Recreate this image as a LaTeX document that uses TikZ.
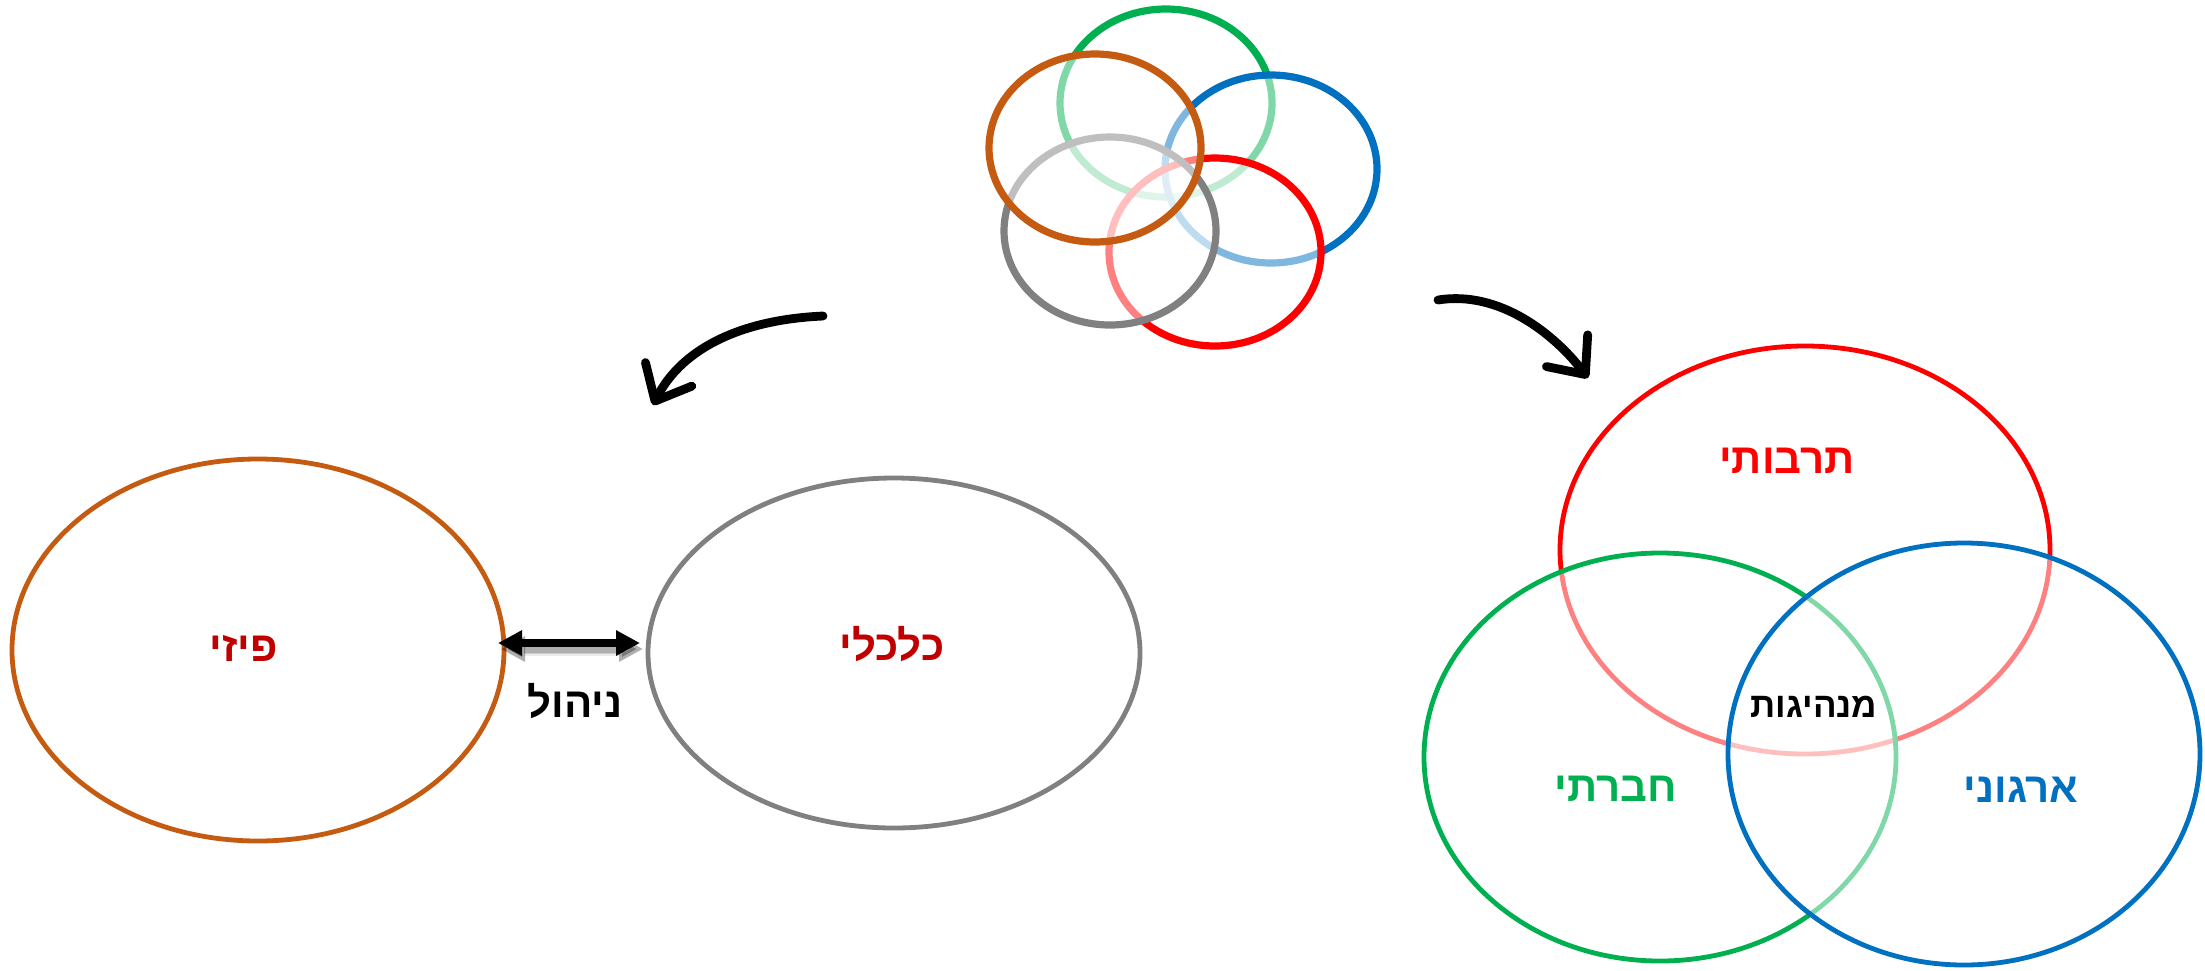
\documentclass[tikz,border=0pt]{standalone}
\usepackage{fontspec}
\newfontfamily\hebfont[Script=Hebrew]{Liberation Sans Bold}
\TeXXeTstate=1
\usetikzlibrary{shapes.geometric, arrows.meta, positioning}
\definecolor{rustbrown}{RGB}{197, 90, 17}
\definecolor{midgray}{RGB}{128, 128, 128}
\definecolor{labelred}{RGB}{192, 0, 0}
\definecolor{vennred}{RGB}{255, 0, 0}
\definecolor{venngreen}{RGB}{0, 176, 80}
\definecolor{vennblue}{RGB}{0, 112, 192}
\newcommand{\heb}[1]{\hebfont\beginR #1\endR}

\tikzset{
  ring/.style={ellipse, draw, fill=white, fill opacity=0.5, inner sep=0pt, outer sep=0pt},
  lbl/.style={inner sep=0pt, font=\fontsize{21}{24}\selectfont},
  sketcharrow/.style={line width=4.4pt, line cap=round, -{Straight Barb[length=15pt, width=26pt, round]}},
  mgmtarrow/.style={line width=4pt, {Triangle[length=12pt, width=12pt]}-{Triangle[length=12pt, width=12pt]}}
}

\begin{document}
\begin{tikzpicture}[x=0.5pt, y=-0.5pt]
  \useasboundingbox (0,0) rectangle (2205,970);

  % five linked rings on top
  \foreach \ringname/\ringcol/\cx/\cy in {topgreen/venngreen/1166/103, topblue/vennblue/1271/169,
      topred/vennred/1215/252, topgray/midgray/1110/231, topbrown/rustbrown/1095/148}
    \node[ring, draw=\ringcol, line width=3.6pt, minimum width=106pt, minimum height=94pt] (\ringname) at (\cx,\cy) {};

  % curved arrows
  \coordinate (lstart) at (823,316);
  \coordinate (ltip) at (653,405);
  \coordinate (rstart) at (1438,300);
  \coordinate (rtip) at (1588,378);
  \draw[sketcharrow] (lstart) .. controls (735,320) and (680,352) .. (ltip);
  \draw[sketcharrow] (rstart) .. controls (1500,290) and (1555,335) .. (rtip);

  % left pair
  \node[ring, draw=rustbrown, line width=2.4pt, minimum width=246pt, minimum height=191pt] (phys) at (258,650) {};
  \node[ring, draw=midgray, line width=2.4pt, minimum width=246pt, minimum height=175pt] (econ) at (894,653) {};
  \node[lbl, text=labelred] (physlbl) at (244,648) {\heb{פיזי}};
  \node[lbl, text=labelred] (econlbl) at (892,644) {\heb{כלכלי}};

  \foreach \blur/\op in {7pt/0.08, 5pt/0.12, 3.5pt/0.15}
    \draw[mgmtarrow, black, opacity=\op, line width=\blur, transform canvas={shift={(1.5pt,-3pt)}}]
      ([xshift=-3pt,yshift=3.5pt]phys.east) -- ([xshift=-4pt,yshift=5pt]econ.west);
  \draw[mgmtarrow] ([xshift=-3pt,yshift=3.5pt]phys.east) -- ([xshift=-4pt,yshift=5pt]econ.west);
  \node[lbl] (mgmt) at (575,701) {\heb{ניהול}};

  % venn
  \node[ring, draw=vennred, line width=2.4pt, minimum width=245pt, minimum height=204pt] (culture) at (1805,550) {};
  \node[ring, draw=venngreen, line width=2.4pt, minimum width=236pt, minimum height=204pt] (social) at (1660,757) {};
  \node[ring, draw=vennblue, line width=2.4pt, minimum width=236pt, minimum height=211pt] (org) at (1964,754) {};
  \node[lbl, text=vennred] (culturelbl) at (1787,461) {\heb{תרבותי}};
  \node[lbl, text=venngreen] (sociallbl) at (1616,789) {\heb{חברתי}};
  \node[lbl, text=vennblue] (orglbl) at (2021,790) {\heb{ארגוני}};
  \node[lbl, font=\fontsize{17.5}{20}\selectfont] (leadlbl) at (1814,707) {\heb{מנהיגות}};
\end{tikzpicture}
\end{document}
